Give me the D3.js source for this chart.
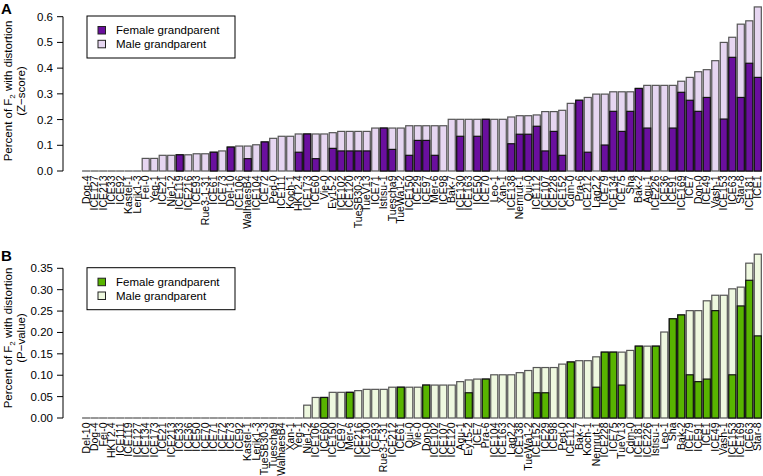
<!DOCTYPE html>
<html><head><meta charset="utf-8">
<script src="https://cdn.jsdelivr.net/npm/d3@7"></script>
<style>
body{margin:0;background:#fff;}
text{font-family:"Liberation Sans",Arial,sans-serif;fill:#000;}
</style></head>
<body>
<svg id="chart" width="763" height="476"></svg>
<script>
// ---------- Panel A (Z-score) ----------
const catsA = ["Dog-4","ICE127","ICE213","ICE33","ICE92","Kastel-1","Lerik1-3","Fei-0","Yeg-1","ICE21",
"Nie1-2","ICE119","ICE216","ICE93","Rue3-1-31","ICE61","ICE73","Del-10","ICE106","WalhaesB4",
"ICE104","ICE72","Ped-0","ICE111","Koch-1","HKT2.4","ICE173","ICE60","Vie-0","Ey15-2",
"ICE102","ICE120","TueSB30-3","TueV13","ICE71","Istisu-1","Tuescha9","TueWa1-2","ICE150","ICE29",
"ICE97","Mer-6","ICE98","Bak-7","ICE130","ICE163","ICE50","ICE70","Leo-1","Xan-1",
"ICE138","Nemrut-1","Qui-0","ICE112","ICE107","ICE228","ICE152","Cdm-0","Pra-6","ICE212",
"Lag2.2","ICE79","ICE134","ICE75","Sha","Bak-2","Agu-1","ICE226","ICE36","ICE91",
"ICE169","ICE7","Don-0","ICE49","Vash-1","ICE153","ICE63","Star-8","ICE181","ICE1"];
const femaleA = [0,0,0,0,0,0,0,0,0,0,
0,0.063,0,0,0,0.073,0,0.093,0,0.048,
0,0.113,0,0,0,0.073,0.144,0.048,0,0.088,
0.078,0.078,0.078,0.078,0,0.167,0.084,0,0.061,0.119,
0.119,0.061,0,0,0.135,0,0.135,0.201,0,0,
0.106,0.143,0.143,0.174,0.078,0.154,0.061,0,0.275,0.073,
0,0.101,0.232,0.154,0.232,0.321,0.167,0,0,0.167,
0.306,0.275,0.232,0.286,0,0.202,0.442,0.286,0.419,0.364];
const maleA = [0,0,0,0,0,0,0,0.049,0.049,0.061,
0.061,0,0.063,0.067,0.067,0,0.078,0,0.097,0.049,
0.102,0,0.127,0.135,0.135,0.071,0,0.096,0.144,0.061,
0.076,0.076,0.076,0.076,0.167,0,0.083,0.167,0.115,0.057,
0.057,0.115,0.176,0.201,0.066,0.201,0.066,0,0.201,0.201,
0.104,0.072,0.072,0.044,0.153,0.077,0.175,0.263,0,0.213,
0.299,0.198,0.076,0.154,0.076,0,0.166,0.333,0.333,0.166,
0.043,0.089,0.154,0.108,0.429,0.298,0.078,0.285,0.165,0.274];
const ticksA = ["0.0","0.1","0.2","0.3","0.4","0.5","0.6"];

// ---------- Panel B (P-value) ----------
const catsB = ["Del-10","Dog-4","Fei-0","HKT2.4","ICE111","ICE119","ICE127","ICE134","ICE173","ICE21",
"ICE213","ICE33","ICE36","ICE50","ICE70","ICE71","ICE72","ICE73","ICE92","Kastel-1",
"Lerik1-3","TueSB30-3","Tuescha9","WalhaesB4","Xan-1","Yeg-1","Nie1-2","ICE106","ICE60","ICE150",
"ICE97","Mer-6","ICE216","ICE130","ICE93","Rue3-1-31","ICE212","ICE61","Qui-0","Vie-0",
"Don-0","ICE102","ICE107","ICE120","Agu-1","Ey15-2","ICE7","Pra-6","ICE104","ICE163",
"Lag2.2","ICE138","TueWa1-2","ICE152","ICE29","ICE98","Ped-0","ICE112","Bak-7","Koch-1",
"Nemrut-1","ICE228","ICE75","TueV13","Cdm-0","ICE181","ICE226","Istisu-1","Leo-1","Sha",
"Bak-2","ICE79","ICE91","ICE1","ICE49","Vash-1","ICE153","ICE169","ICE63","Star-8"];
const femaleB = [0,0,0,0,0,0,0,0,0,0,
0,0,0,0,0,0,0,0,0,0,
0,0,0,0,0,0,0,0,0.048,0,
0,0.060,0,0,0,0,0,0.072,0,0,
0.077,0,0,0,0,0.059,0,0.091,0,0,
0,0,0,0.059,0.059,0,0,0.131,0,0,
0.072,0.154,0.154,0.077,0,0.168,0,0.168,0,0.232,
0.241,0.101,0.085,0.091,0.251,0,0.101,0.262,0.322,0.192];
const maleB = [0,0,0,0,0,0,0,0,0,0,
0,0,0,0,0,0,0,0,0,0,
0,0,0,0,0,0,0.030,0.048,0,0.060,
0.060,0,0.064,0.067,0.067,0.067,0.072,0,0.072,0.072,
0,0.077,0.077,0.077,0.085,0.030,0.091,0,0.101,0.101,
0.101,0.106,0.111,0.059,0.059,0.118,0.126,0,0.134,0.134,
0.071,0,0,0.077,0.158,0,0.168,0,0.201,0,
0,0.150,0.166,0.183,0.036,0.287,0.201,0.044,0.040,0.191];
const ticksB = ["0.00","0.05","0.10","0.15","0.20","0.25","0.30","0.35"];

const seriesNames = ["Female grandparent","Male grandparent"];

const svg = d3.select("#chart");

function panel(cfg){
  const g = svg.append("g");
  const x = d3.scaleBand().domain(cfg.cats).range([82,762]).paddingInner(0.17).paddingOuter(0.08);
  const tickVals = cfg.ticks.map(Number);
  const y = d3.scaleLinear().domain([0, tickVals[tickVals.length-1]]).range([cfg.y0, cfg.yTop]);
  const axX = 63;
  // y axis (R style)
  g.append("line").attr("x1",axX).attr("x2",axX).attr("y1",y(0)).attr("y2",y(tickVals[tickVals.length-1]))
    .attr("stroke","#000").attr("stroke-width",1);
  const tk = g.selectAll(".tk").data(cfg.ticks).enter().append("g");
  tk.append("line").attr("x1",axX-6).attr("x2",axX).attr("y1",d=>y(+d)).attr("y2",d=>y(+d))
    .attr("stroke","#000").attr("stroke-width",1);
  tk.append("text").attr("x",axX-10).attr("y",d=>y(+d)).attr("dy","0.35em")
    .attr("text-anchor","end").style("font-size","11.5px").text(d=>d);
  // bars
  const data = cfg.cats.map((c,i)=>({c, f:cfg.female[i], m:cfg.male[i]}));
  const bw = x.bandwidth();
  const bg = g.selectAll(".bar").data(data).enter().append("g");
  bg.append("rect").attr("x",d=>x(d.c)).attr("width",bw)
    .attr("y",d=>y(d.f+d.m)).attr("height",d=>Math.max(0.01, y(0)-y(d.f+d.m)))
    .attr("fill",cfg.light).attr("stroke","#555").attr("stroke-width",1.2);
  bg.filter(d=>d.f>0).append("rect").attr("x",d=>x(d.c)).attr("width",bw)
    .attr("y",d=>y(d.f)).attr("height",d=>y(0)-y(d.f))
    .attr("fill",cfg.dark).attr("stroke","#111").attr("stroke-width",1.2);
  // x labels
  g.selectAll(".xl").data(cfg.cats).enter().append("text")
    .attr("transform",d=>`translate(${x(d)+bw/2},${cfg.y0+4.5}) rotate(-90)`)
    .attr("text-anchor","end").attr("dy","0.35em").style("font-size","10.5px").text(d=>d);
  // y title
  const t = g.append("text").attr("transform",`translate(12,${cfg.titleY}) rotate(-90)`)
    .attr("text-anchor","middle").style("font-size","11.5px");
  t.append("tspan").text("Percent of F");
  t.append("tspan").attr("dy","3").style("font-size","8px").text("2");
  t.append("tspan").attr("dy","-3").text(" with distortion");
  g.append("text").attr("transform",`translate(24.5,${cfg.titleY}) rotate(-90)`)
    .attr("text-anchor","middle").style("font-size","11.5px").text(cfg.sub);
  // panel letter
  g.append("text").attr("x",1).attr("y",cfg.letterY).style("font-size","15px").style("font-weight","bold").text(cfg.letter);
  // legend
  const lg = g.append("g");
  lg.append("rect").attr("x",87).attr("y",cfg.legY).attr("width",148).attr("height",42)
    .attr("fill","#fff").attr("stroke","#000").attr("stroke-width",1);
  const cols = [cfg.dark, cfg.light];
  seriesNames.forEach((s,i)=>{
    lg.append("rect").attr("x",98).attr("y",cfg.legY+10.5+i*13.8).attr("width",7.5).attr("height",7.5)
      .attr("fill",cols[i]).attr("stroke","#222").attr("stroke-width",1);
    lg.append("text").attr("x",116).attr("y",cfg.legY+18.3+i*13.8).style("font-size","11.5px").text(s);
  });
}

panel({cats:catsA, female:femaleA, male:maleA, ticks:ticksA, y0:171, yTop:16.7,
  dark:"#6a0f9e", light:"#e6d6f1", sub:"(Z\u2212score)", titleY:91, letter:"A", letterY:13.5, legY:16});
panel({cats:catsB, female:femaleB, male:maleB, ticks:ticksB, y0:418, yTop:268.3,
  dark:"#58b400", light:"#eef8df", sub:"(P\u2212value)", titleY:338, letter:"B", letterY:260.5, legY:267.7});
</script>
</body></html>
